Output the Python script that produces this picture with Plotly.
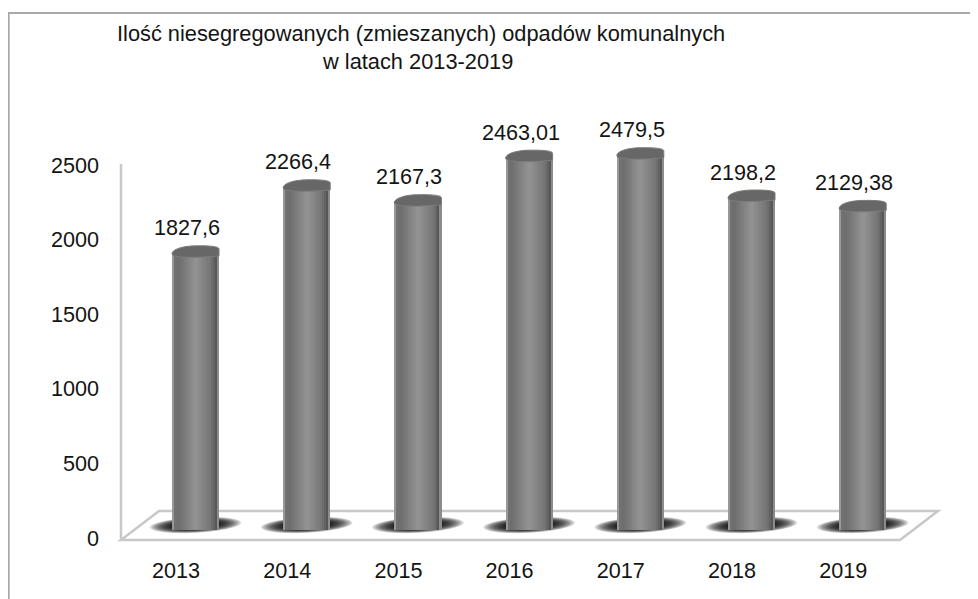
import math
import plotly.graph_objects as go

years = ["2013", "2014", "2015", "2016", "2017", "2018", "2019"]
values = [1827.6, 2266.4, 2167.3, 2463.01, 2479.5, 2198.2, 2129.38]
value_labels = ["1827,6", "2266,4", "2167,3", "2463,01", "2479,5", "2198,2", "2129,38"]
y_ticks = [0, 500, 1000, 1500, 2000, 2500]

# the page adds an 8 px margin around the figure, so the figure is 970x591
# and every layout constant below is in window pixels
PAGE = 8
W, H = 978, 599
ML, PB = 100, 555  # plot area in the window: x 100..978, y 8..555
PW = W - ML
PH = PB - PAGE
FONT = "Liberation Sans, Arial, sans-serif"
FS = 21.6
TXT = "#141414"

# bar scale
BX0, BDX = 195.5, 111.2
BZ, BS = 527.0, 0.1505
# tick label scale
LX0, LDX = 176.0, 111.2
LZ, LS = 538.0, 0.1492

positions = list(range(len(years)))
BAR_W_PX = 47
STRIPS = 24


def gray_at(t):
    pts = [(0, 0xb4), (0.05, 0x72), (0.14, 0x6e), (0.5, 0x94), (0.82, 0x76), (0.94, 0x58), (1, 0xa8)]
    for (a, ga), (b, gb) in zip(pts, pts[1:]):
        if a <= t <= b:
            g = int(ga + (gb - ga) * (t - a) / (b - a))
            return f"rgb({g},{g},{g})"
    return "rgb(128,128,128)"


fig = go.Figure()
sw = BAR_W_PX / BDX / STRIPS
for s in range(STRIPS):
    off = -BAR_W_PX / 2 / BDX + s * sw
    fig.add_trace(go.Bar(
        x=positions, y=[v + 20 for v in values], base=-20, xaxis="x2", yaxis="y2",
        width=sw * 1.15, offset=off,
        marker=dict(color=gray_at((s + 0.5) / STRIPS), line_width=0),
        hoverinfo="skip", showlegend=False,
    ))
# invisible trace carrying the tick-label axes
fig.add_trace(go.Scatter(x=years, y=[0] * len(years), mode="markers", marker=dict(opacity=0),
                         xaxis="x", yaxis="y", showlegend=False, hoverinfo="skip"))

shapes = []


def px(x):
    return (x - ML) / PW


def py(y):
    return (PB - y) / PH


def blob(hw, hh, cx, cy, tilt):
    c, s = math.cos(tilt), math.sin(tilt)
    pts = []
    for a in range(0, 360, 15):
        ex, ey = hw * math.cos(math.radians(a)), hh * math.sin(math.radians(a))
        pts.append((cx + ex * c - ey * s, cy + ex * s + ey * c))
    return "M " + " L ".join(f"{x:.2f} {y:.2f}" for x, y in pts) + " Z"


line = dict(color="#c8c8c8", width=2.5)
frame = dict(color="#a9a9a9", width=1.8)
shapes.append(dict(type="line", xref="paper", yref="paper", x0=px(8.8), x1=px(8.8), y0=py(13), y1=py(600), line=frame, layer="below"))
shapes.append(dict(type="line", xref="paper", yref="paper", x0=px(8), x1=px(978), y0=py(13), y1=py(13), line=frame, layer="below"))
# wall line and floor
shapes.append(dict(type="line", xref="paper", yref="paper", x0=px(121), x1=px(121), y0=py(164), y1=py(540), line=line, layer="below"))
shapes.append(dict(type="path", xref="paper", yref="paper",
                   path=f"M {px(121)} {py(540)} L {px(900)} {py(540)} L {px(938)} {py(511)} L {px(159)} {py(511)} Z",
                   line=line, fillcolor="white", layer="below"))
# base shadows: soft dark blob around each foot
for i in positions:
    for k in range(12):
        hw, hh = 46 - k * 1.9, 7.8 - k * 0.3
        shapes.append(dict(type="path", xref="x2", yref="y2", xsizemode="pixel", ysizemode="pixel",
                           xanchor=i, yanchor=0, path=blob(hw, hh, 0, 2, math.radians(3)),
                           fillcolor="rgba(0,0,0,0.14)", line_width=0, layer="below"))
# cylinder tops
for i, v in zip(positions, values):
    shapes.append(dict(type="path", xref="x2", yref="y2", xsizemode="pixel", ysizemode="pixel",
                       xanchor=i, yanchor=v,
                       path="M -23.5 -2 C -23.5 -6, 0 -6, 23.5 -4 L 23.5 3 C 23.5 6, 10 6.5, -4 6 C -16 5, -23.5 2, -23.5 -2 Z",
                       fillcolor="#676767", line=dict(color="#7c7c7c", width=1), layer="above"))

annotations = []
for i, v, t in zip(positions, values, value_labels):
    annotations.append(dict(x=i, y=v, xref="x2", yref="y2", text=t, showarrow=False, xshift=-8.5, yshift=24,
                            font=dict(family=FONT, size=FS, color=TXT)))
annotations.append(dict(xref="paper", yref="paper", x=px(115), y=py(33), xanchor="left", yanchor="middle", showarrow=False,
                        text="Ilość niesegregowanych (zmieszanych) odpadów komunalnych",
                        font=dict(family=FONT, size=21.8, color=TXT)))
annotations.append(dict(xref="paper", yref="paper", x=px(417), y=py(62), xanchor="center", yanchor="middle", showarrow=False,
                        text="w latach 2013-2019",
                        font=dict(family=FONT, size=21.8, color=TXT)))

fig.update_layout(
    template="none",
    width=W - PAGE, height=H - PAGE, autosize=False,
    margin=dict(l=ML - PAGE, r=0, t=0, b=H - PB, pad=0),
    paper_bgcolor="white", plot_bgcolor="rgba(0,0,0,0)",
    barmode="overlay", bargap=0, showlegend=False,
    font=dict(family=FONT, size=FS, color=TXT),
    xaxis=dict(type="category", range=[(ML - LX0) / LDX, (W - LX0) / LDX], tickvals=years, ticktext=years,
               showgrid=False, zeroline=False, showline=False, ticks="", automargin=False,
               tickfont=dict(size=FS, family=FONT, color=TXT)),
    yaxis=dict(range=[(LZ - PB) / LS, (LZ - PAGE) / LS], tickvals=y_ticks, ticktext=[str(t) for t in y_ticks],
               showgrid=False, zeroline=False, showline=False, ticks="", automargin=False,
               tickfont=dict(size=FS, family=FONT, color=TXT)),
    xaxis2=dict(overlaying="x", range=[(ML - BX0) / BDX, (W - BX0) / BDX], visible=False),
    yaxis2=dict(overlaying="y", range=[(BZ - PB) / BS, (BZ - PAGE) / BS], visible=False),
    shapes=shapes, annotations=annotations,
)
fig.write_html("out.html")
